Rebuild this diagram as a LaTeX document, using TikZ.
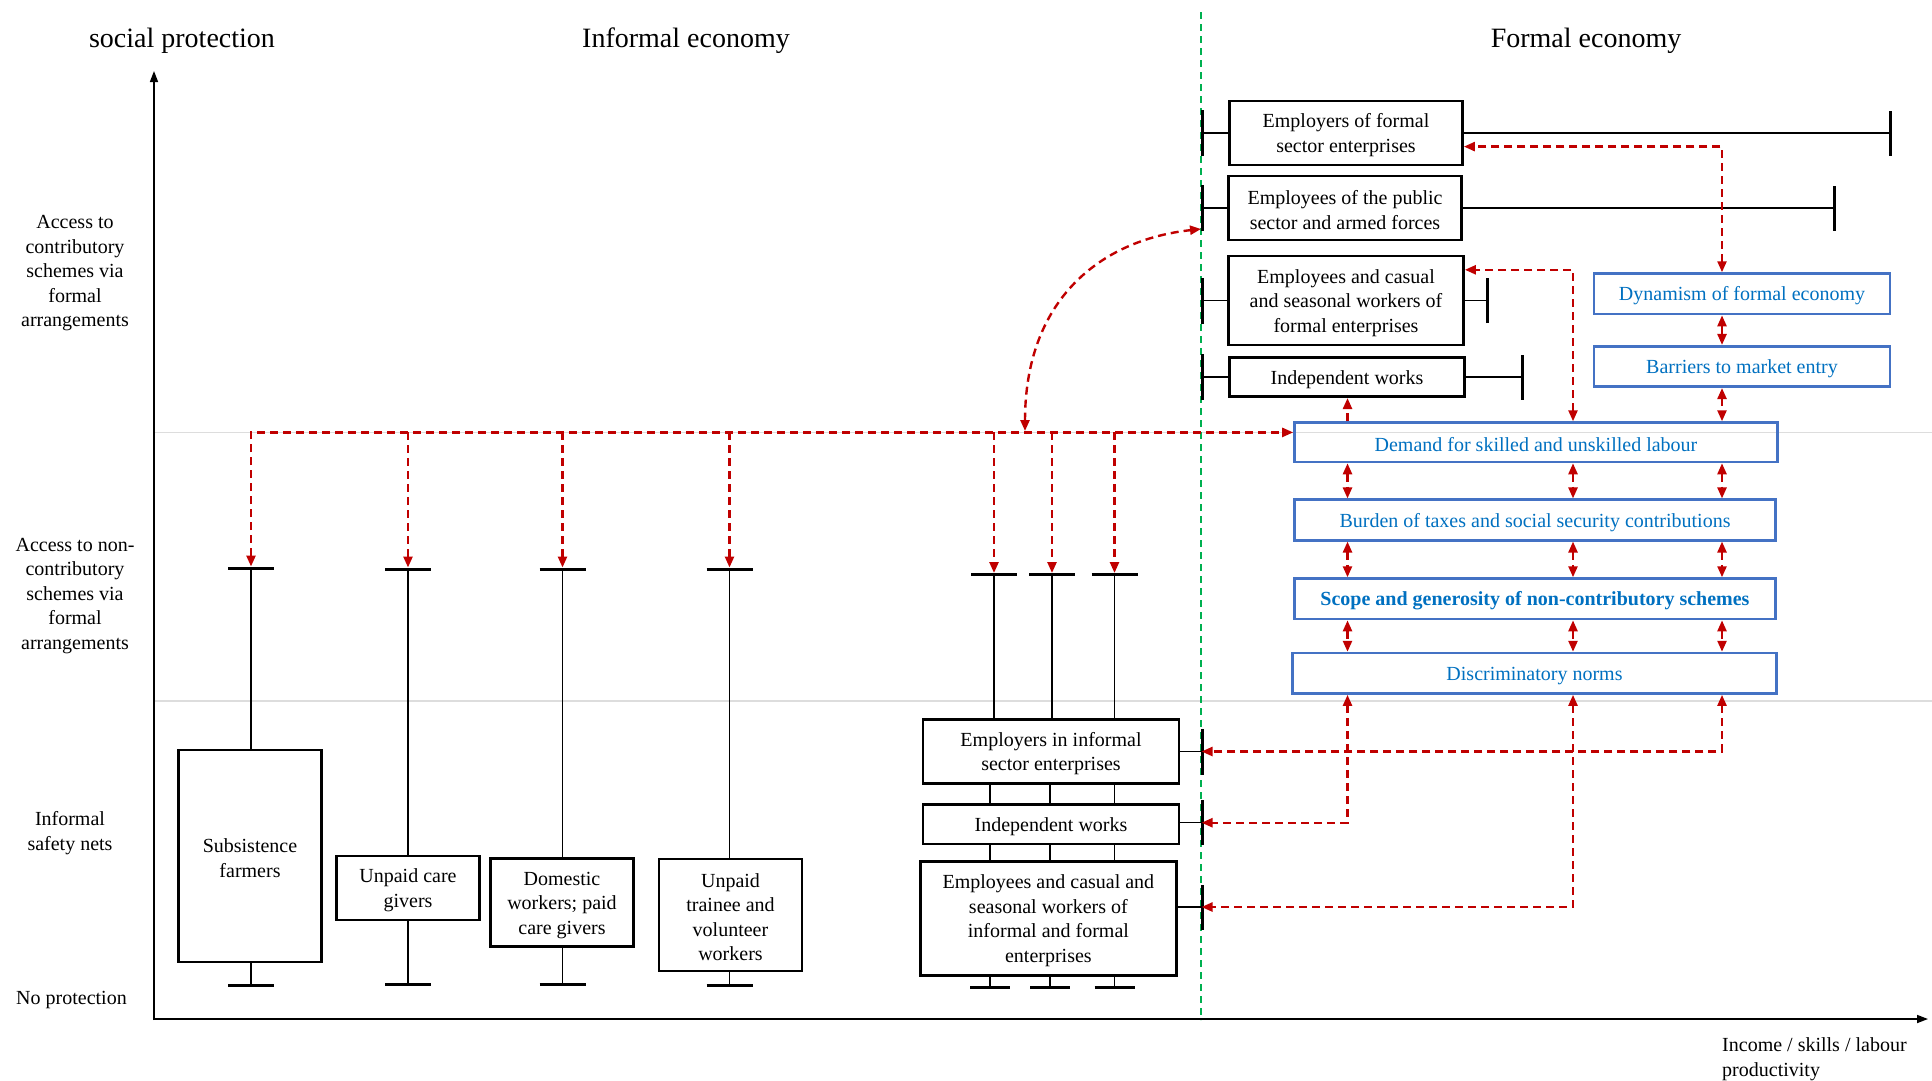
\documentclass[tikz,border=0pt]{standalone}
\usepackage{fontspec}
\setmainfont{Liberation Serif}
\usetikzlibrary{arrows.meta}
\definecolor{myred}{HTML}{C00000}
\definecolor{myblue}{HTML}{0070C0}
\definecolor{myblueb}{HTML}{4472C4}
\definecolor{mygreen}{HTML}{00B050}
\definecolor{mygray}{HTML}{DDDDDD}
\newcommand{\hs}{\rule{0pt}{18.5pt}}
\begin{document}
\begin{tikzpicture}[x=1pt,y=-1pt,
  every node/.style={font=\fontsize{20}{24.5}\selectfont, inner sep=0pt},
  box/.style={draw=black, line width=2.7pt, align=center},
  bbox/.style={draw=myblueb, line width=2.6pt, text=myblue, align=center, minimum height=40.5pt},
  whisk/.style={line width=1.3pt, black},
  capline/.style={line width=3pt, black},
  axis/.style={line width=1.6pt, black, -{Triangle[length=11pt,width=8pt]}},
  gridl/.style={line width=1.5pt, mygray},
  greend/.style={line width=1.8pt, mygreen, dash pattern=on 7pt off 5pt},
  rline/.style={draw=myred, line width=2.4pt, dash pattern=on 8pt off 5pt},
  rarr/.style={rline, -{Triangle[length=11pt,width=9pt]}},
  rdbl/.style={rline, {Triangle[length=11pt,width=9pt]}-{Triangle[length=11pt,width=9pt]}},
  title/.style={font=\fontsize{28}{30}\selectfont}
]
\useasboundingbox (0,0) rectangle (1932,1080);

% titles
\node[title] (t1) at (182,40.5) {social protection};
\node[title] (t2) at (686,40.5) {Informal economy};
\node[title] (t3) at (1586,40.5) {Formal economy};

% left labels
\node[align=center] (l1) at (75,273.5) {Access to\\contributory\\schemes via\\formal\\arrangements};
\node[align=center] (l2) at (75,596) {Access to non-\\contributory\\schemes via\\formal\\arrangements};
\node[align=center] (l3) at (70,833) {Informal\\safety nets};
\node (l4) at (71.5,1000) {No protection};

% grid, axes, divider
\draw[gridl] (154,432.4) -- (1932,432.4);
\draw[gridl] (154,701) -- (1932,701);
\coordinate (O) at (154,1020);
\coordinate (ytop) at (154,71);
\coordinate (xend) at (1928,1019);
\draw[axis] (O) -- (ytop);
\draw[axis] (154,1019) -- (xend);
\coordinate (gtop) at (1201,12);
\coordinate (gbot) at (1201,1020);
\draw[greend] (gtop) -- (gbot);

\node[align=left, anchor=west] (xl) at (1722,1059) {Income / skills / labour\\productivity};

% informal boxes
\node[box, minimum width=143pt, minimum height=212pt] (b1) at (250,856) {\hs Subsistence\\farmers};
\node[box, minimum width=143pt, minimum height=64pt] (b2) at (408,888) {\hs Unpaid care\\givers};
\node[box, minimum width=143pt, minimum height=87.5pt] (b3) at (562,902.5) {\hs Domestic\\workers; paid\\care givers};
\node[box, minimum width=143pt, minimum height=112pt] (b4) at (730.5,915) {\hs Unpaid\\trainee and\\volunteer\\workers};

\foreach \n/\x/\yt/\yb in {1/251/568/985.6, 2/408/569/984.4, 3/562.5/569/984.4, 4/729.5/569/985.6}{
  \coordinate (c\n t) at (\x,\yt);
  \coordinate (c\n b) at (\x,\yb);
  \draw[whisk] (c\n t) -- (b\n.north -| c\n t);
  \draw[whisk] (b\n.south -| c\n b) -- (c\n b);
  \draw[capline] ([xshift=-23pt]c\n t) -- ([xshift=23pt]c\n t);
  \draw[capline] ([xshift=-23pt]c\n b) -- ([xshift=23pt]c\n b);
}

% middle boxes
\node[box, minimum width=256pt, minimum height=64pt] (m1) at (1051,751.5) {\hs Employers in informal\\sector enterprises};
\node[box, minimum width=256pt, minimum height=39.5pt] (m2) at (1051,824.2) {\hs Independent works};
\node[box, minimum width=256pt, minimum height=114.5pt] (m3) at (1048.4,918.4) {\hs Employees and casual and\\seasonal workers of\\informal and formal\\enterprises};

\foreach \n/\xt/\x in {1/994/990, 2/1052/1050, 3/1114.5/1114.5}{
  \coordinate (w\n t) at (\xt,574.5);
  \coordinate (w\n b) at (\x,987);
  \draw[whisk] (w\n t) -- (m1.north -| w\n t);
  \draw[whisk] (m1.south -| w\n b) -- (m2.north -| w\n b);
  \draw[whisk] (m2.south -| w\n b) -- (m3.north -| w\n b);
  \draw[whisk] (m3.south -| w\n b) -- (w\n b);
  \draw[capline] ([xshift=-23pt]w\n t) -- ([xshift=23pt]w\n t);
  \draw[capline] ([xshift=-20pt]w\n b) -- ([xshift=20pt]w\n b);
}

% right links of middle boxes
\coordinate (k1) at (1202.5,751.5);
\coordinate (k2) at (1202.5,822.7);
\coordinate (k3) at (1202.5,907);
\draw[whisk] (m1.east |- k1) -- (k1);
\draw[whisk] (m2.east |- k2) -- (k2);
\draw[whisk] (m3.east |- k3) -- (k3);
\draw[capline] ([yshift=-23pt]k1) -- ([yshift=23pt]k1);
\draw[capline] ([yshift=-22.5pt]k2) -- ([yshift=22.5pt]k2);
\draw[capline] ([yshift=-22.5pt]k3) -- ([yshift=22.5pt]k3);

% formal boxes
\node[box, minimum width=233pt, minimum height=64pt] (f1) at (1346,133) {\hs Employers of formal\\sector enterprises};
\node[box, minimum width=233pt, minimum height=64pt] (f2) at (1345,208) {\hs Employees of the public\\sector and armed forces};
\node[box, minimum width=235pt, minimum height=89pt] (f3) at (1346,300.6) {\hs Employees and casual\\and seasonal workers of\\formal enterprises};
\node[box, minimum width=235pt, minimum height=39.4pt] (f4) at (1347,377) {\hs Independent works};

\foreach \n/\xr in {1/1890, 2/1834.5, 3/1487, 4/1522.8}{
  \coordinate (fl\n) at (1202.5,0 |- f\n.center);
  \coordinate (fr\n) at (\xr,0 |- f\n.center);
  \draw[whisk] (fl\n) -- (f\n.west);
  \draw[whisk] (f\n.east) -- (fr\n);
  \draw[capline] ([yshift=-23pt]fl\n) -- ([yshift=23pt]fl\n);
  \draw[capline] ([yshift=-22.5pt]fr\n) -- ([yshift=22.5pt]fr\n);
}

% blue boxes
\node[bbox, minimum width=296pt] (d1) at (1742,293.8) {\hs Dynamism of formal economy};
\node[bbox, minimum width=296pt] (d2) at (1742,366.5) {\hs Barriers to market entry};
\node[bbox, minimum width=483pt, minimum height=39.4pt] (d3) at (1536,442.3) {\hs Demand for skilled and unskilled labour};
\node[bbox, minimum width=481pt] (d4) at (1535,520) {\hs Burden of taxes and social security contributions};
\node[bbox, minimum width=481pt] (d5) at (1535,598.8) {\hs\bfseries Scope and generosity of non-contributory schemes};
\node[bbox, minimum width=484pt] (d6) at (1534.5,673.3) {\hs Discriminatory norms};

% red arrows
\coordinate (colA) at (1347.5,0);
\coordinate (colB) at (1573,0);
\coordinate (colC) at (1722,0);
\draw[rarr] (d3.north -| colA) -- (f4.south -| colA);
\coordinate (kB) at (1573,269.8);
\draw[rdbl] (d3.north -| kB) -- (kB) -- (f3.east |- kB);
\coordinate (kC) at (1722,146.6);
\draw[rdbl] (d1.north -| kC) -- (kC) -- (f1.east |- kC);
\draw[rdbl] (d1.south -| colC) -- (d2.north -| colC);
\draw[rdbl] (d2.south -| colC) -- (d3.north -| colC);
\foreach \c in {colA,colB,colC}{
  \draw[rdbl] (d3.south -| \c) -- (d4.north -| \c);
  \draw[rdbl] (d4.south -| \c) -- (d5.north -| \c);
  \draw[rdbl] (d5.south -| \c) -- (d6.north -| \c);
}
\coordinate (eC) at (1722,751.5);
\coordinate (eA) at (1347.5,822.7);
\coordinate (eB) at (1573,907);
\draw[rdbl, shorten >=-1pt] (d6.south -| eC) -- (eC) -- (k1);
\draw[rdbl, shorten >=-1pt] (d6.south -| eA) -- (eA) -- (k2);
\draw[rdbl, shorten >=-1pt] (d6.south -| eB) -- (eB) -- (k3);

% main horizontal distribution line
\coordinate (h0) at (251,432.4);
\draw[rdbl, shorten <=1.5pt] (c1t) -- (h0) -- (d3.west |- h0);
\foreach \n in {2,3,4}{
  \draw[rarr, shorten >=1.5pt] (h0 -| c\n t) -- (c\n t);
}
\foreach \n in {1,2,3}{
  \draw[rarr, shorten >=1.5pt] (h0 -| w\n t) -- (w\n t);
}
% curved arrow
\coordinate (cv0) at (1025,431);
\coordinate (cv1) at (1201,229);
\draw[rdbl] (cv0) .. controls (1025,300) and (1100,240) .. (cv1);
\end{tikzpicture}
\end{document}
